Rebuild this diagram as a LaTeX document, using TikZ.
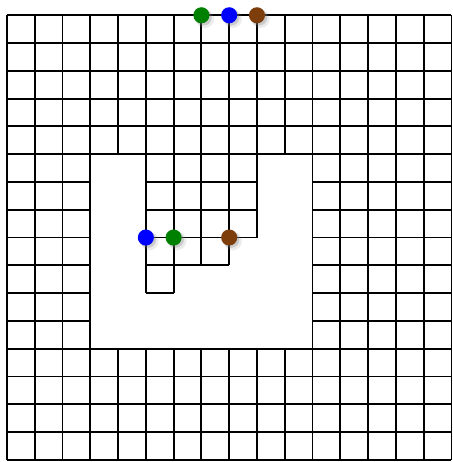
\documentclass[tikz,border=0pt]{standalone}
\usetikzlibrary{shadows}
\definecolor{tokgreen}{RGB}{0,128,0}
\definecolor{tokblue}{RGB}{0,0,255}
\definecolor{tokbrown}{RGB}{125,62,12}
\tikzset{
  gridline/.style={line width=1.9pt,black},
  token/.style={circle,inner sep=0pt,minimum size=0.58cm,
    drop shadow={opacity=0.15,shadow scale=1.15,shadow xshift=0.11cm,shadow yshift=-0.11cm},
    drop shadow={opacity=0.3,shadow xshift=0.08cm,shadow yshift=-0.08cm}}
}
\begin{document}
\begin{tikzpicture}[x=1cm,y=1cm]
\useasboundingbox (-0.25,-0.08) rectangle (16.02,16.55);
% board with the hole cut out
\draw[gridline] (0,0) grid (16,16);
\fill[white] (3,4) rectangle (11,11);
\draw[gridline] (3,4) rectangle (11,11);
% cells left inside the hole
\draw[gridline] (5,8) grid (9,11);
\draw[gridline] (5,7) grid (8,8);
\draw[gridline] (5,6) grid (6,7);
% tokens on the top edge
\node[token,fill=tokgreen] (topgreen) at (7,16) {};
\node[token,fill=tokblue] (topblue) at (8,16) {};
\node[token,fill=tokbrown] (topbrown) at (9,16) {};
% tokens inside
\node[token,fill=tokblue] (inblue) at (5,8) {};
\node[token,fill=tokgreen] (ingreen) at (6,8) {};
\node[token,fill=tokbrown] (inbrown) at (8,8) {};
\end{tikzpicture}
\end{document}
